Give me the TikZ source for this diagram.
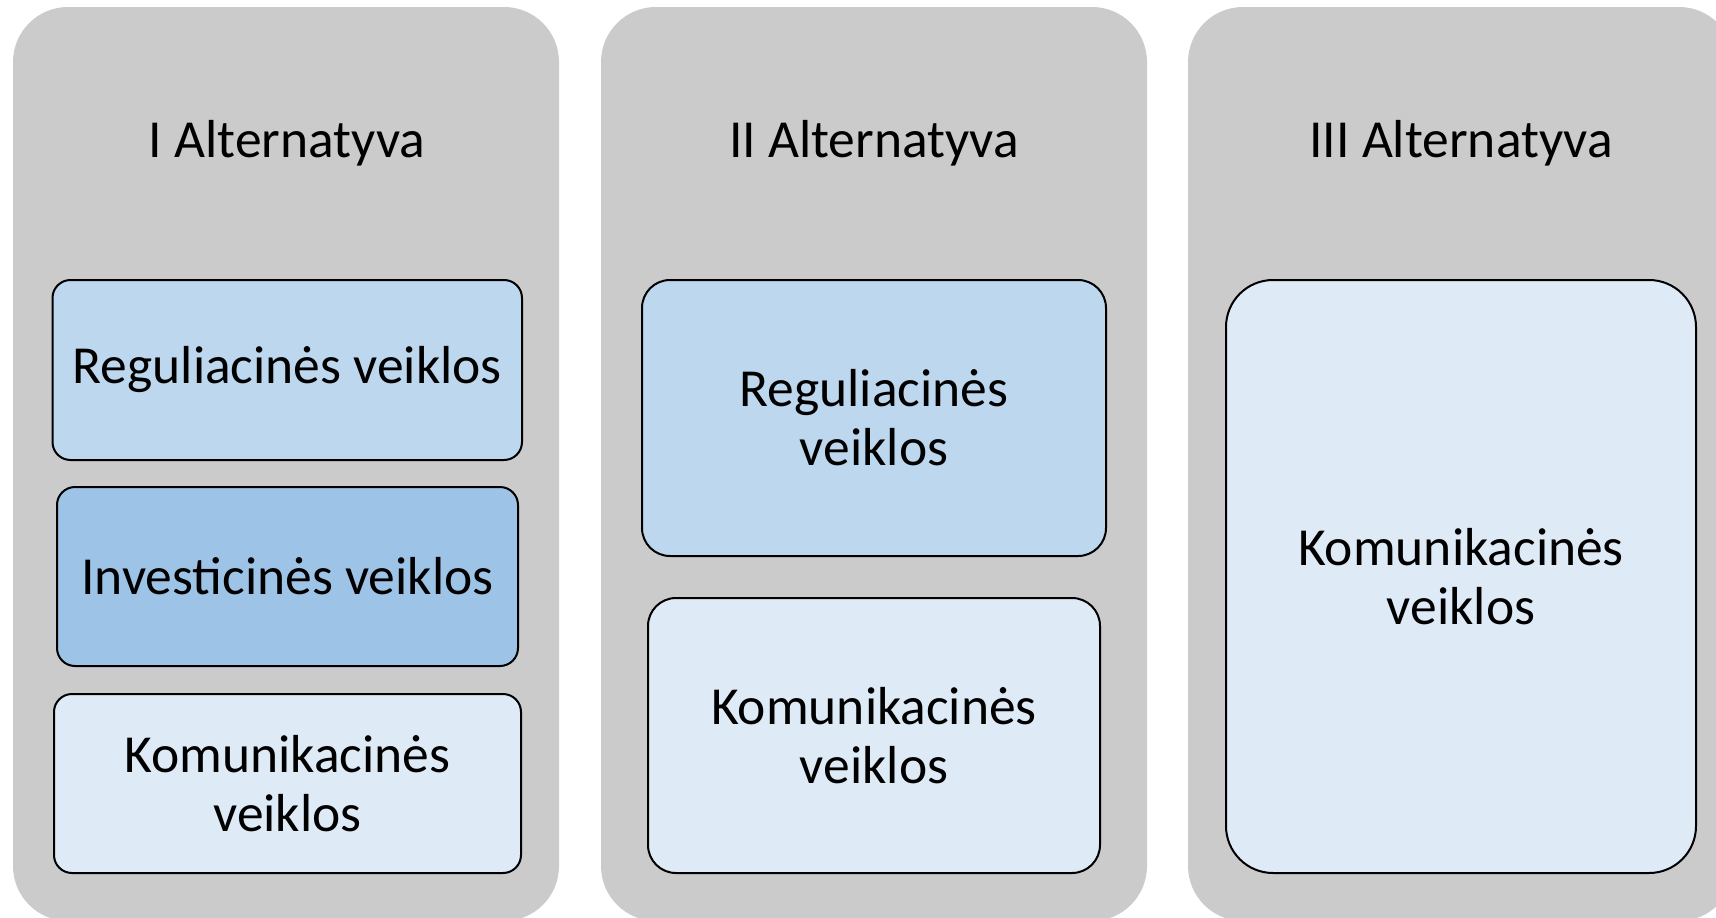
\documentclass[tikz,border=0pt]{standalone}
\usepackage{fontspec}
\setmainfont{Carlito}
\definecolor{panelgray}{HTML}{CBCBCB}
\definecolor{regblue}{HTML}{BDD7EE}
\definecolor{invblue}{HTML}{9DC3E6}
\definecolor{komblue}{HTML}{DEEBF7}
\begin{document}
\begin{tikzpicture}[x=1pt,y=-1pt,
  bigfont/.style={font=\fontsize{53.5}{59}\selectfont},
  panel/.style={fill=panelgray,draw=none,rounded corners=55pt,inner sep=0pt,
    minimum width=546pt,minimum height=914pt},
  boxbase/.style={draw=black,line width=2pt,inner sep=0pt,align=center,bigfont},
  regbox/.style={boxbase,fill=regblue},
  invbox/.style={boxbase,fill=invblue},
  kombox/.style={boxbase,fill=komblue},
  title/.style={bigfont,inner sep=0pt}]
\useasboundingbox (0,0) rectangle (1716,918);
\clip (0,0) rectangle (1716,918);
% panels
\node[panel] (p1) at (286,464) {};
\node[panel] (p2) at (874,464) {};
\node[panel] (p3) at (1461,464) {};
% titles
\node[title] (t1) at (287,143) {I Alternatyva};
\node[title] (t2) at (874,143) {II Alternatyva};
\node[title] (t3) at (1461,143) {III Alternatyva};
% column 1
\node[regbox,rounded corners=18pt,minimum width=469.5pt,minimum height=180pt] (r1) at (287.25,370) {Reguliacinės veiklos};
\node[invbox,rounded corners=18pt,minimum width=461pt,minimum height=179pt] (i1) at (287.5,576.5) {Investicinės veiklos};
\node[kombox,rounded corners=18pt,minimum width=467pt,minimum height=179pt] (k1) at (287.5,783.5) {Komunikacinės\\veiklos};
% column 2
\node[regbox,rounded corners=28pt,minimum width=464pt,minimum height=276pt] (r2) at (874,418) {Reguliacinės\\veiklos};
\node[kombox,rounded corners=28pt,minimum width=452pt,minimum height=275pt] (k2) at (874,735.5) {Komunikacinės\\veiklos};
% column 3
\node[kombox,rounded corners=47pt,minimum width=470pt,minimum height=593pt] (k3) at (1461,576.5) {Komunikacinės\\veiklos};
\end{tikzpicture}
\end{document}
